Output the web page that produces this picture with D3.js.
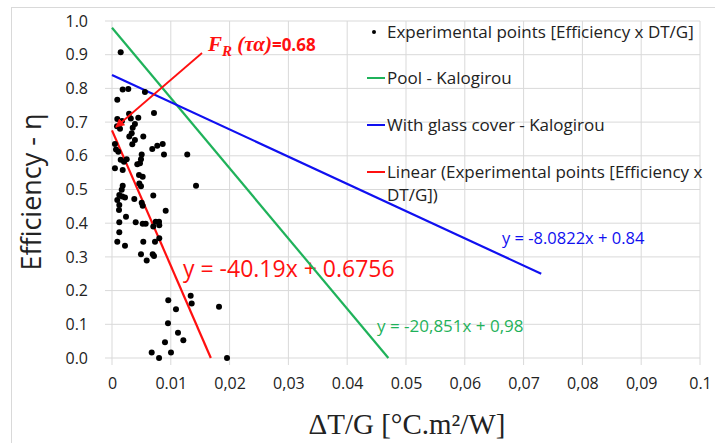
<!DOCTYPE html>
<html><head><meta charset="utf-8">
<script src="https://cdn.jsdelivr.net/npm/d3@7"></script>
<style>body{margin:0;background:#fff}svg{display:block}</style>
</head><body><svg id="c" width="715" height="443"></svg>
<script>
// ---- data ----
const expX = [0.00148,0.00182,0.00277,0.0009,0.0056,0.0029,0.0032,0.00447,0.00714,0.0009,0.0039,0.00352,0.00085,0.00136,0.0017,
0.00335,0.00294,0.00532,0.0039,0.00345,0.0077,0.00862,0.00685,0.0005,0.00068,0.00107,0.00505,0.00884,0.0128,
0.00148,0.00204,0.0025,0.00493,0.00476,0.0043,0.0005,0.00182,0.00459,0.00522,0.00464,0.00493,0.01429,0.00182,0.00165,
0.00124,0.0009,0.00175,0.00221,0.00379,0.00702,0.00505,0.00522,0.00124,0.00119,0.00913,0.00238,0.00124,0.00403,0.00522,
0.00573,0.00702,0.00743,0.008,0.00804,0.00124,0.0009,0.00221,0.00532,0.00731,0.00804,0.00493,0.0059,0.00692,0.00714,
0.01338,0.01355,0.00957,0.01088,0.0182,0.00952,0.01122,0.01213,0.00901,0.00675,0.01003,0.008,0.01956];
const expY = [0.907,0.797,0.798,0.766,0.789,0.725,0.711,0.713,0.727,0.709,0.694,0.683,0.688,0.68,0.703,
0.667,0.657,0.657,0.647,0.634,0.630,0.635,0.620,0.635,0.619,0.612,0.604,0.604,0.604,
0.588,0.582,0.590,0.590,0.578,0.575,0.563,0.558,0.543,0.538,0.518,0.510,0.511,0.511,0.499,
0.484,0.469,0.479,0.476,0.472,0.482,0.461,0.452,0.454,0.439,0.437,0.419,0.403,0.403,0.398,
0.398,0.390,0.404,0.404,0.394,0.373,0.345,0.333,0.345,0.345,0.355,0.308,0.289,0.308,0.303,
0.185,0.162,0.171,0.145,0.152,0.103,0.075,0.053,0.047,0.016,0.016,0.0,0.0];
const poolX = [0, 0.047], poolY = [0.98, 0];
const glassX = [0, 0.073], glassY = [0.84, 0.25];
const linX = [0, 0.01681], linY = [0.6756, 0];
const xTicks = [0,0.01,0.02,0.03,0.04,0.05,0.06,0.07,0.08,0.09,0.1];
const xTickLabels = ["0","0.01","0,02","0,03","0.04","0.05","0,06","0,07","0,08","0,09","0.1"];
const yTicks = [0,0.1,0.2,0.3,0.4,0.5,0.6,0.7,0.8,0.9,1.0];
const yTickLabels = ["0.0","0.1","0.2","0.3","0.4","0.5","0.6","0.7","0.8","0.9","1.0"];
const legendLabels = ["Experimental points [Efficiency x DT/G]","Pool - Kalogirou","With glass cover - Kalogirou","Linear (Experimental points [Efficiency x","DT/G])"];
const eqPool = "y = -20,851x + 0,98", eqGlass = "y = -8.0822x + 0.84", eqLin = "y = -40.19x + 0.6756";
const colors = {pool:"#1fb25a", glass:"#1010f0", lin:"#ff1010"};

// ---- chart ----
const svg = d3.select("#c");
const F = "'Open Sans', 'Liberation Sans', sans-serif";
svg.append("rect").attr("x",11.5).attr("y",7.5).attr("width",720).attr("height",450)
  .attr("fill","#fff").attr("stroke","#d9d9d9");
const x = d3.scaleLinear().domain([0,0.1]).range([112,700]);
const y = d3.scaleLinear().domain([0,1]).range([358,21]);

// grid
const g = svg.append("g");
g.selectAll(".hg").data(yTicks).join("line")
  .attr("x1",105).attr("x2",x(0.1)).attr("y1",d=>y(d)).attr("y2",d=>y(d))
  .attr("stroke","#d9d9d9").attr("stroke-width",1);
g.selectAll(".vg").data(xTicks).join("line")
  .attr("x1",d=>x(d)).attr("x2",d=>x(d)).attr("y1",y(1)).attr("y2",365)
  .attr("stroke","#d9d9d9").attr("stroke-width",1);

// axes labels via d3 axes
const ya = svg.append("g").attr("transform","translate(104,0)")
  .call(d3.axisLeft(y).tickValues(yTicks).tickFormat((d,i)=>yTickLabels[i]).tickSize(0).tickPadding(16));
ya.select(".domain").remove();
ya.selectAll("text").attr("font-family",F).attr("font-size",16).attr("fill","#222");
const xa = svg.append("g").attr("transform","translate(0,372)")
  .call(d3.axisBottom(x).tickValues(xTicks).tickFormat((d,i)=>xTickLabels[i]).tickSize(0).tickPadding(6));
xa.select(".domain").remove();
xa.selectAll("text").attr("font-family",F).attr("font-size",16).attr("fill","#222");

svg.append("text").attr("transform","translate(41,192) rotate(-90)").attr("text-anchor","middle")
  .attr("font-family",F).attr("font-size",27).attr("fill","#222").text("Efficiency - η");
svg.append("text").attr("x",407).attr("y",434).attr("text-anchor","middle")
  .attr("font-family","'Liberation Serif', serif").attr("font-size",29).attr("fill","#222").text("ΔT/G [°C.m²/W]");

// equation labels
svg.append("text").attr("x",502).attr("y",244).attr("font-family",F).attr("font-size",16.5).attr("fill",colors.glass).text(eqGlass);
svg.append("text").attr("x",377).attr("y",332).attr("font-family",F).attr("font-size",17).attr("fill",colors.pool).text(eqPool);
svg.append("text").attr("x",183).attr("y",277).attr("font-family",F).attr("font-size",23).attr("fill",colors.lin).text(eqLin);

// lines
const line = d3.line().x(d=>x(d[0])).y(d=>y(d[1]));
const series = [[poolX,poolY,colors.pool],[glassX,glassY,colors.glass],[linX,linY,colors.lin]];
series.forEach(([xs,ys,c])=>{
  svg.append("path").attr("d",line(xs.map((v,i)=>[v,ys[i]]))).attr("fill","none").attr("stroke",c).attr("stroke-width",2.2);
});

// points
svg.append("g").selectAll("circle").data(expX.map((v,i)=>[v,expY[i]])).join("circle")
  .attr("cx",d=>x(d[0])).attr("cy",d=>y(d[1])).attr("r",3).attr("fill","#000");

// annotation arrow
svg.append("defs").append("marker").attr("id","ah").attr("viewBox","0 0 10 10").attr("refX",9).attr("refY",5)
  .attr("markerWidth",5).attr("markerHeight",5).attr("orient","auto")
  .append("path").attr("d","M0,0 L10,5 L0,10 z").attr("fill",colors.lin);
svg.append("line").attr("x1",202).attr("y1",53).attr("x2",116).attr("y2",127)
  .attr("stroke",colors.lin).attr("stroke-width",1.8).attr("marker-end","url(#ah)");
const ann = svg.append("text").attr("x",208).attr("y",51).attr("font-family","'Liberation Serif', serif")
  .attr("font-weight","bold").attr("font-style","italic").attr("font-size",21).attr("fill",colors.lin);
ann.append("tspan").text("F");
ann.append("tspan").attr("dy",5).attr("font-size",15).text("R");
ann.append("tspan").attr("dy",-5).text(" (τα)");
ann.append("tspan").attr("font-style","normal").attr("font-family",F).attr("font-size",17).text("=0.68");

// legend
const lg = svg.append("g").attr("font-family",F).attr("font-size",17).attr("fill","#222");
lg.append("circle").attr("cx",374).attr("cy",32).attr("r",2).attr("fill","#000");
const ly = [38,84,131,178,201];
legendLabels.forEach((t,i)=>lg.append("text").attr("x",387).attr("y",ly[i]).text(t));
[[78,colors.pool],[125,colors.glass],[172,colors.lin]].forEach(([yy,c])=>{
  lg.append("line").attr("x1",367).attr("x2",385).attr("y1",yy).attr("y2",yy).attr("stroke",c).attr("stroke-width",2);
});
</script></body></html>
